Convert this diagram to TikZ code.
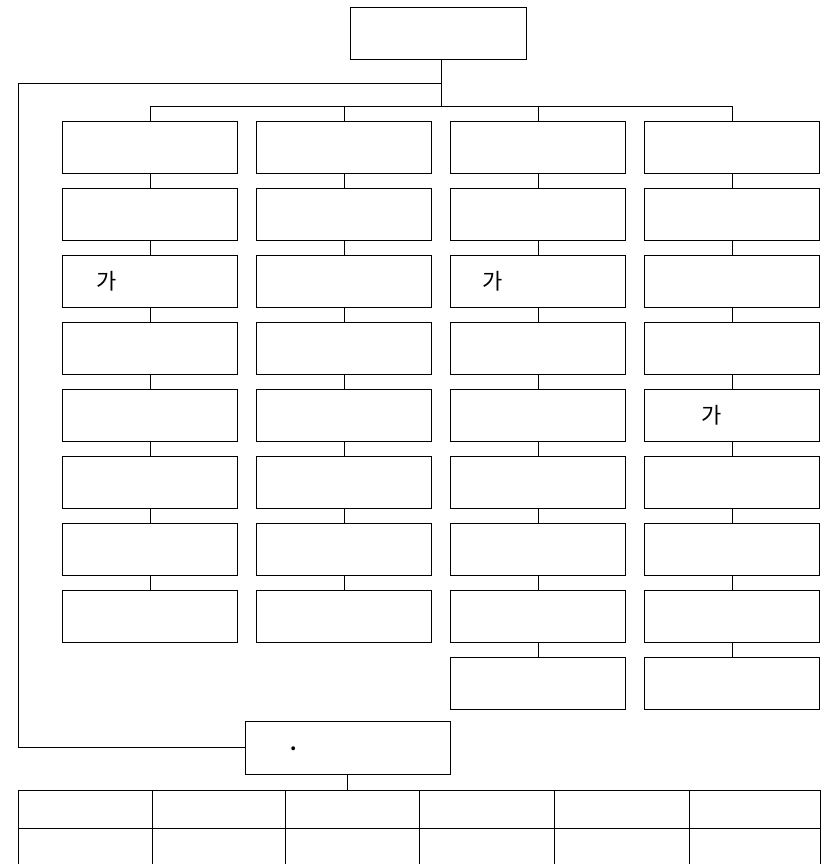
\documentclass[tikz,border=0pt]{standalone}
\usepackage{fontspec}
\newfontfamily\cjk{Noto Sans CJK KR}
\tikzset{
  unit/.style={draw, line width=0.8pt, minimum width=175pt, minimum height=52pt, inner sep=0pt},
  link/.style={line width=0.8pt},
  hangul/.style={font=\cjk\fontsize{22}{26}\selectfont, inner sep=0pt}
}
\begin{document}
\begin{tikzpicture}[x=1pt,y=-1pt]
        \useasboundingbox (0,0) rectangle (829,864);
        % top box and the two branches
        \node[unit, minimum width=176pt] (head) at (438,33) {};
        \coordinate (drop) at ([xshift=3pt]head.south);
        \coordinate (split) at (441,83);
        \coordinate (left) at (18,83);
        \node[unit, minimum width=205pt, minimum height=53pt] (foot) at (347.5,747.5) {};
        \node[font=\cjk\fontsize{18}{20}\selectfont\bfseries, inner sep=0pt, anchor=base] (mark) at (294,750) {.};
        % four columns
        \foreach \c/\x/\n in {1/150/8,2/344/8,3/538/9,4/732/9}{
            \coordinate (bus-\c) at (\x,106);
            \foreach \r in {1,...,\n}
                \node[unit] (b-\c-\r) at (\x,{147+67*(\r-1)}) {};
            \draw[link] (bus-\c) -- (b-\c-1.north);
            \foreach \r [remember=\r as \p (initially 1)] in {2,...,\n}
                \draw[link] (b-\c-\p.south) -- (b-\c-\r.north);
        }
        \draw[link] (drop) -- (drop |- bus-1);
        \draw[link] (bus-1) -- (bus-4);
        \draw[link] (split) -- (left) |- (foot.west);
        \node[hangul] (t1) at ([xshift=45pt]b-1-3.west) {가};
        \node[hangul] (t2) at ([xshift=43pt]b-3-3.west) {가};
        \node[hangul] (t3) at ([xshift=68pt]b-4-5.west) {가};
        % table under the bottom box
        \coordinate (tabletop) at (foot.south |- 0,790);
        \draw[link] (foot.south) -- (tabletop);
        \draw[link] (18,864) -- (18,790) -- (820,790) -- (820,864);
        \draw[link] (18,828) -- (820,828);
        \foreach \x in {152,285,419,554,689}
            \draw[link] (\x,790) -- (\x,864);
    \end{tikzpicture}
\end{document}
